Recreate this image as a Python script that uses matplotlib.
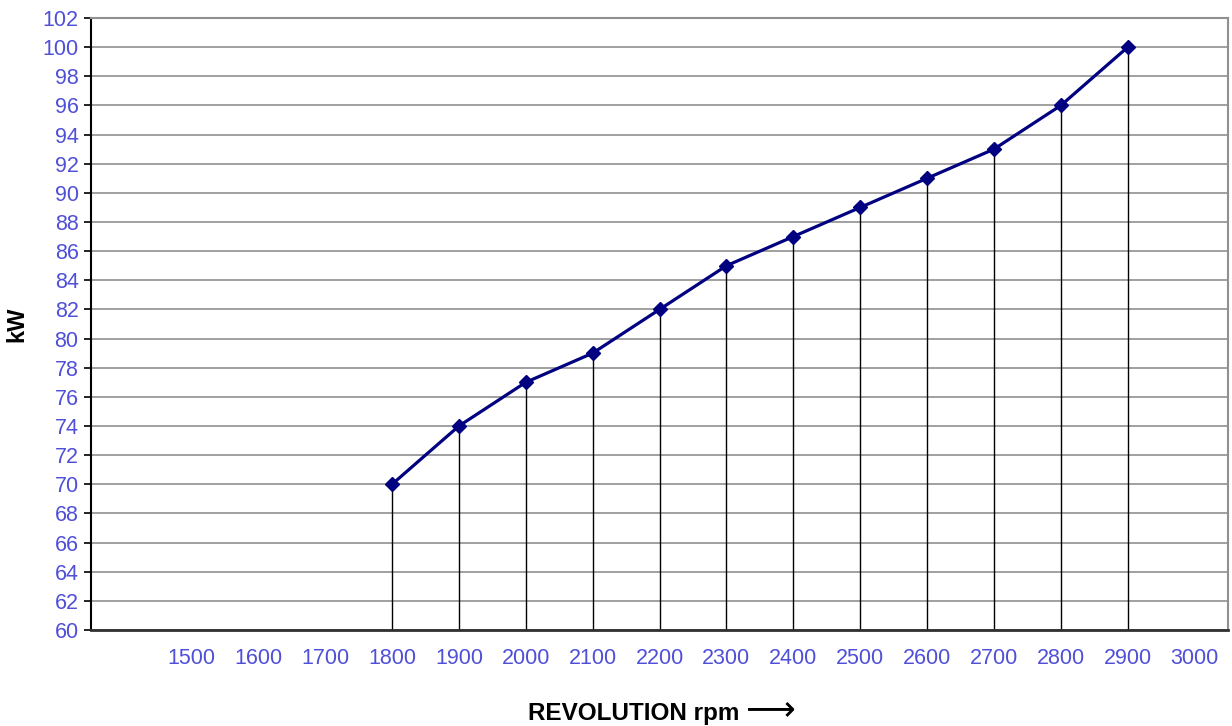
import matplotlib
matplotlib.use("Agg")
import matplotlib.pyplot as plt

rpm = [1800, 1900, 2000, 2100, 2200, 2300, 2400, 2500, 2600, 2700, 2800, 2900]
kw = [70, 74, 77, 79, 82, 85, 87, 89, 91, 93, 96, 100]
x_ticks = list(range(1500, 3001, 100))
y_ticks = list(range(60, 103, 2))

plt.rcParams['font.family'] = ['Liberation Sans', 'DejaVu Sans']

fig = plt.figure(figsize=(12.32, 7.26), dpi=100)
ax = fig.add_axes([0.0739, 0.1322, 0.9229, 0.843])

ax.set_xlim(1350, 3050)
ax.set_ylim(60, 102)
ax.set_yticks(y_ticks)
ax.set_xticks(x_ticks)

# horizontal grid
ax.grid(axis='y', color='#a0a0a0', linewidth=1.4)
ax.set_axisbelow(True)

# drop lines from each point to the axis
ax.vlines(rpm, 60, kw, colors='black', linewidth=1.0, zorder=2)

ax.plot(rpm, kw, color='#000080', linewidth=2.3, marker='D', markersize=7.5,
        markerfacecolor='#000080', markeredgecolor='#000080', zorder=3)

tick_color = '#4f4fd8'
ax.tick_params(axis='y', direction='out', length=5, width=1.2, colors='black',
               labelcolor=tick_color, labelsize=15.5, pad=4)
ax.tick_params(axis='x', length=0, labelcolor=tick_color, labelsize=15.5, pad=13)

for side in ['top', 'right']:
    ax.spines[side].set_color('#909090')
    ax.spines[side].set_linewidth(1.5)
ax.spines['left'].set_color('black')
ax.spines['left'].set_linewidth(1.5)
ax.spines['bottom'].set_color('#303030')
ax.spines['bottom'].set_linewidth(2.0)

ax.set_ylabel('kW', fontsize=17, fontweight='bold', labelpad=10)

# axis title with a long arrow after it
xt = fig.text(528 / 1232, 1 - 720 / 726, 'REVOLUTION rpm', fontsize=17.5,
              fontweight='bold', ha='left', va='baseline')
ax.annotate('\u27f6', xy=(1, 0), xycoords=xt, xytext=(4, -1),
            textcoords='offset points', fontsize=25, family='DejaVu Sans',
            va='bottom', ha='left')

fig.savefig('out.png', dpi=100)
